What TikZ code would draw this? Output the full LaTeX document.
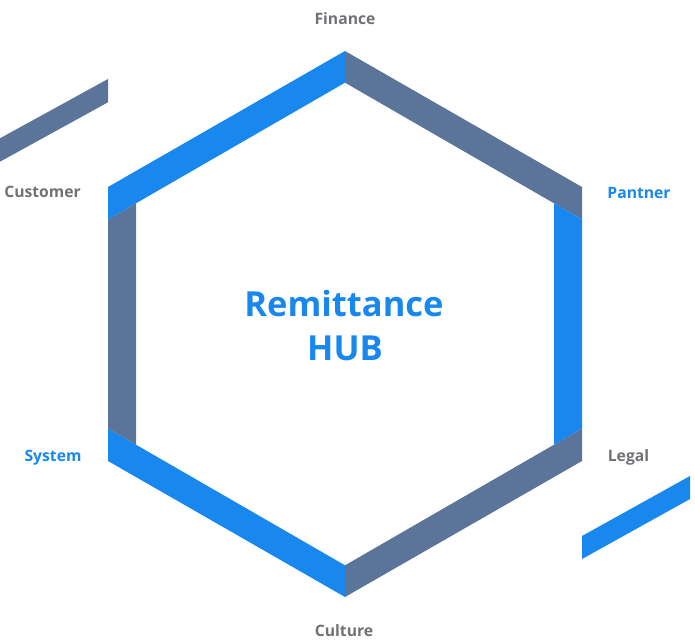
\documentclass[tikz,border=0pt]{standalone}
\usepackage{fontspec}
\setmainfont{Open Sans}
\definecolor{hubblue}{RGB}{24,135,238}
\definecolor{hubslate}{RGB}{91,116,153}
\definecolor{labelgray}{RGB}{112,113,117}
\begin{document}
\begin{tikzpicture}[x=1pt,y=-1pt,
  bandblue/.style={fill=hubblue,draw=none},
  bandslate/.style={fill=hubslate,draw=none},
  sidelabel/.style={anchor=base,inner sep=0pt,font=\fontsize{15.7}{18}\selectfont\bfseries},
  greylabel/.style={sidelabel,text=labelgray},
  bluelabel/.style={sidelabel,text=hubblue},
  title/.style={anchor=base,inner sep=0pt,text=hubblue,font=\fontsize{34.5}{40}\selectfont\bfseries}]
\useasboundingbox (0,0) rectangle (695,639);

% hexagonal ring, one band per side
\fill[bandblue]  (108,187) -- (345,51) -- (345,82.7) -- (136,203.3) -- (108,219.5) -- cycle;
\fill[bandslate] (345,51) -- (582,187) -- (582,219.5) -- (554,203.3) -- (345,82.7) -- cycle;
\fill[bandblue]  (554,203.3) -- (582,219.5) -- (582,428.5) -- (554,444.7) -- cycle;
\fill[bandslate] (582,428.5) -- (582,461) -- (345,597) -- (345,565.3) -- (554,444.7) -- cycle;
\fill[bandblue]  (345,597) -- (108,461) -- (108,428.5) -- (136,444.7) -- (345,565.3) -- cycle;
\fill[bandslate] (108,219.5) -- (136,203.3) -- (136,444.7) -- (108,428.5) -- cycle;

% loose accent strips
\fill[bandslate] (0,138.3) -- (108,79) -- (108,102.3) -- (0,161.7) -- cycle;
\fill[bandblue]  (582,536) -- (690,476) -- (690,499) -- (582,559) -- cycle;

% labels round the ring
\node[greylabel] (finance)  at (345,25)  {Finance};
\node[bluelabel] (pantner)  at (639,198) {Pantner};
\node[greylabel] (legal)    at (628.5,461) {Legal};
\node[greylabel] (culture)  at (344,636) {Culture};
\node[bluelabel] (system)   at (53,461)  {System};
\node[greylabel] (customer) at (42.5,197) {Customer};

% centre title
\node[title] (remit) at (344,316) {Remittance};
\node[title] (hub)   at (345,360) {HUB};
\end{tikzpicture}
\end{document}
